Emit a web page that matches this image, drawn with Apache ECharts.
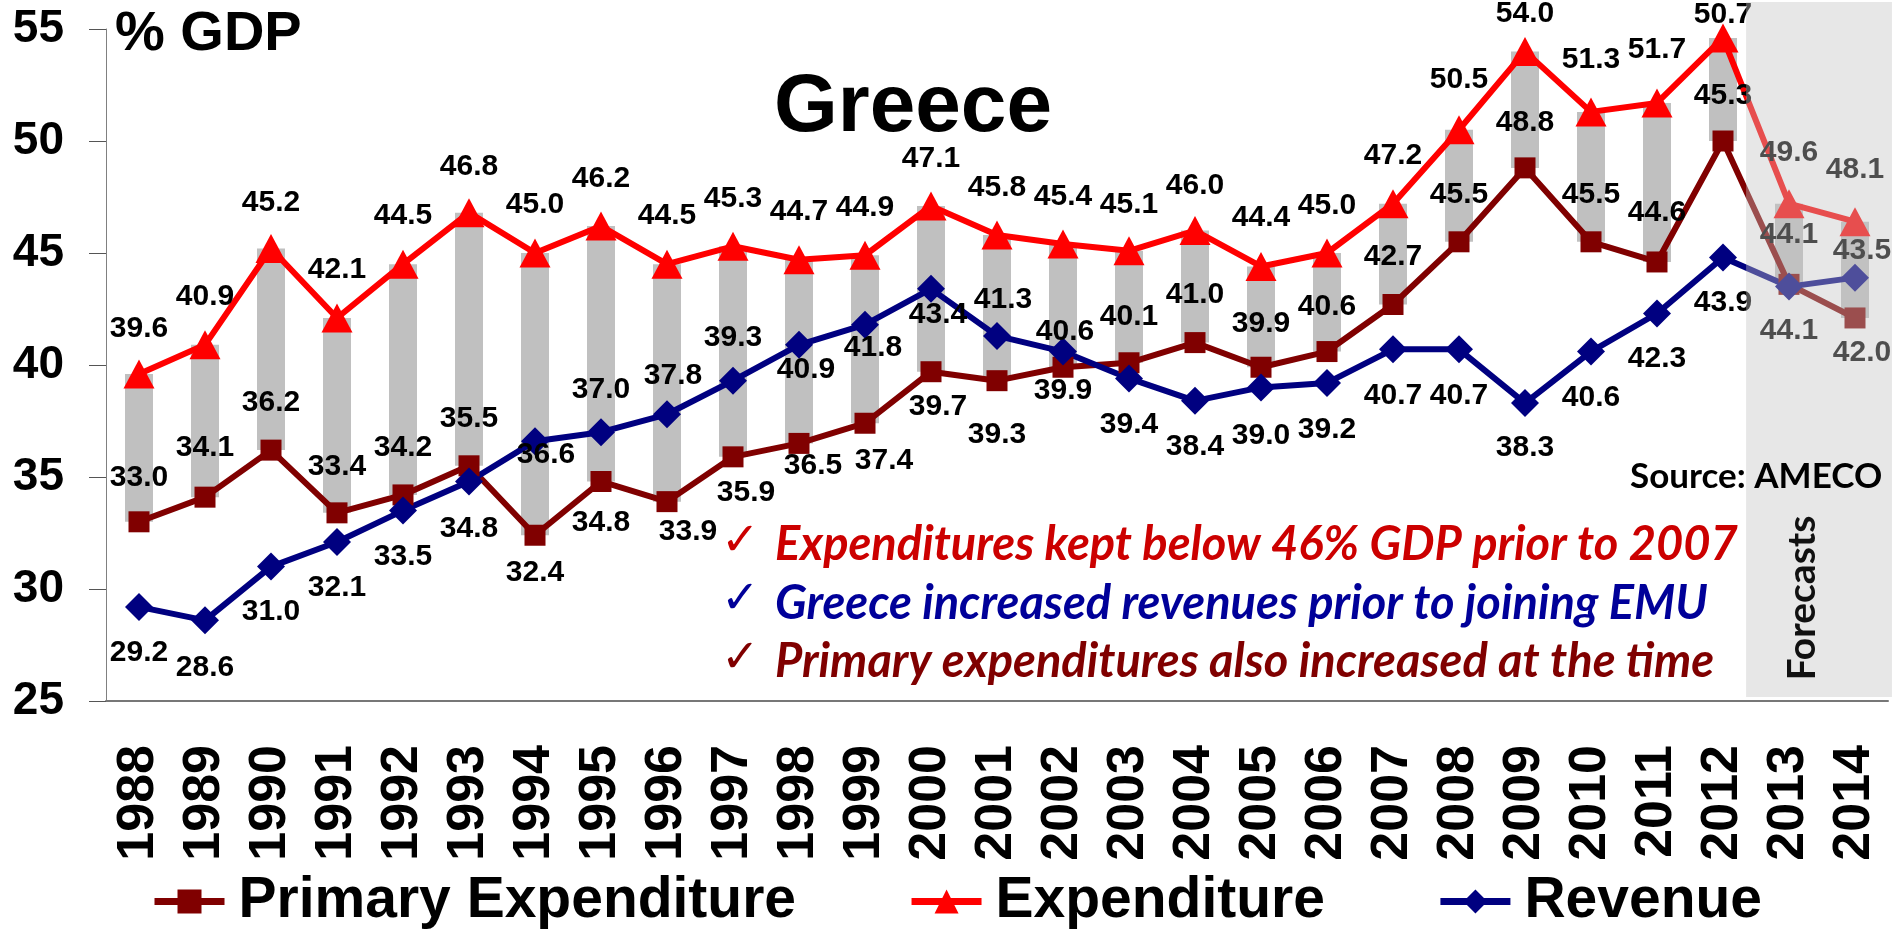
<!DOCTYPE html>
<html lang="en">
<head>
  <meta http-equiv="Content-Type" content="text/html; charset=UTF-8">
  <title>Greece - % GDP</title>
  <style>
    html, body {
      padding: 0;
      margin: 0;
      background: #fff;
    }
    #myChart {
      width: 1895px;
      height: 930px;
    }
  </style>
</head>
<body>
  <div id="myChart"></div>
  <script src="https://cdn.jsdelivr.net/npm/echarts/dist/echarts.min.js"></script>
  <script>
    const years = ['1988', '1989', '1990', '1991', '1992', '1993', '1994', '1995', '1996', '1997',
      '1998', '1999', '2000', '2001', '2002', '2003', '2004', '2005', '2006', '2007',
      '2008', '2009', '2010', '2011', '2012', '2013', '2014'];
    const primary = [33.0, 34.1, 36.2, 33.4, 34.2, 35.5, 32.4, 34.8, 33.9, 35.9, 36.5, 37.4, 39.7, 39.3,
      39.9, 40.1, 41.0, 39.9, 40.6, 42.7, 45.5, 48.8, 45.5, 44.6, 50.0, 43.6, 42.1];
    const expenditure = [39.6, 40.9, 45.2, 42.1, 44.5, 46.8, 45.0, 46.2, 44.5, 45.3, 44.7, 44.9, 47.1, 45.8,
      45.4, 45.1, 46.0, 44.4, 45.0, 47.2, 50.5, 54.0, 51.3, 51.7, 54.6, 47.2, 46.4];
    const revenue = [29.2, 28.6, 31.0, 32.1, 33.5, 34.8, 36.6, 37.0, 37.8, 39.3, 40.9, 41.8, 43.4, 41.3,
      40.6, 39.4, 38.4, 39.0, 39.2, 40.7, 40.7, 38.3, 40.6, 42.3, 44.8, 43.5, 43.9];
    // the printed labels for the last years don't match where the points sit
    const printedPrimary = { '2012': '45.3', '2013': '44.1', '2014': '42.0' };
    const printedExpenditure = { '2012': '50.7', '2013': '49.6', '2014': '48.1' };
    const printedRevenue = { '2012': '43.9', '2013': '44.1', '2014': '43.5' };
    const forecastYears = ['2013', '2014'];
    const notes = [
      { text: 'Expenditures kept below 46% GDP prior to 2007', color: '#cc0000' },
      { text: 'Greece increased revenues prior to joining EMU', color: '#000099' },
      { text: 'Primary expenditures also increased at the time', color: '#800000' },
    ];

    // label offsets (dx, dy) from each marker
    const expDy = [-45, -48, -46, -48, -48, -46, -48, -47, -48, -48, -48, -48, -47, -47,
      -47, -46, -45, -49, -47, -48, -50, -38, -52, -53, -23, -51, -52];
    const primDy = [-44, -49, -47, -46, -47, -47, 37, 41, 30, 36, 22, 37, 35, 54,
      23, -46, -48, -44, -45, -48, -47, -45, -47, -49, -45, 46, 35];
    const primDx = [0, 0, 0, 0, 0, 0, 0, 0, 21, 13, 14, 19, 7, 0, 0, 0, 0, 0, 0, 0, 0, 0, 0, 0, 0, 0, 7];
    const revDy = [46, 47, 45, 46, 46, 47, 14, -42, -39, -43, 25, 23, 26, -36,
      -20, 46, 46, 48, 47, 46, 46, 45, 46, 45, 45, -52, -27];
    const revDx = [0, 0, 0, 0, 0, 0, 11, 0, 6, 0, 7, 8, 7, 6, 2, 0, 0, 0, 0, 0, 0, 0, 0, 0, 0, 0, 7];

    const numFont = "'Liberation Sans', Arial, sans-serif";
    const noteFont = "Lato, 'Open Sans', sans-serif";

    function withLabels(values, dx, dy) {
      return values.map((v, i) => ({
        value: v,
        label: { offset: [dx ? dx[i] : 0, dy[i]] }
      }));
    }
    function labelFor(printed) {
      return {
        show: true,
        position: 'inside',
        fontFamily: numFont,
        fontWeight: 'bold',
        fontSize: 30,
        color: '#000',
        formatter: p => printed[p.name] || p.value.toFixed(1)
      };
    }

    const myChart = echarts.init(document.getElementById('myChart'));
    const option = {
      animation: false,
      backgroundColor: '#fff',
      grid: { left: 106, right: 7, top: 29, bottom: 229 },
      legend: {
        data: ['Primary Expenditure', 'Expenditure', 'Revenue'],
        left: 146,
        top: 868,
        itemWidth: 70,
        itemHeight: 30,
        itemGap: 112,
        lineStyle: { width: 7 },
        textStyle: {
          fontFamily: numFont,
          fontWeight: 'bold',
          fontSize: 57,
          color: '#000',
          padding: [0, 0, 0, 9]
        }
      },
      xAxis: {
        type: 'category',
        data: years,
        axisLine: { lineStyle: { color: '#777', width: 2 } },
        axisTick: { length: 18, lineStyle: { color: '#555' } },
        axisLabel: {
          interval: 0,
          rotate: 90,
          margin: 44,
          fontFamily: numFont,
          fontWeight: 'bold',
          fontSize: 52,
          color: '#000'
        }
      },
      yAxis: {
        type: 'value',
        min: 25,
        max: 55,
        interval: 5,
        splitLine: { show: false },
        axisLine: { show: true, lineStyle: { color: '#808080' } },
        axisTick: { show: true, length: 17, lineStyle: { color: '#555' } },
        axisLabel: {
          margin: 42,
          fontFamily: numFont,
          fontWeight: 'bold',
          fontSize: 46,
          color: '#000'
        }
      },
      series: [{
        type: 'bar',
        stack: 'gap',
        barWidth: 28,
        itemStyle: { color: 'transparent' },
        silent: true,
        data: primary
      }, {
        type: 'bar',
        stack: 'gap',
        barWidth: 28,
        itemStyle: { color: '#c0c0c0' },
        silent: true,
        data: expenditure.map((v, i) => +(v - primary[i]).toFixed(1))
      }, {
        name: 'Primary Expenditure',
        type: 'line',
        symbol: 'rect',
        symbolSize: 21,
        color: '#800000',
        lineStyle: { width: 6 },
        label: labelFor(printedPrimary),
        data: withLabels(primary, primDx, primDy)
      }, {
        name: 'Expenditure',
        type: 'line',
        symbol: 'triangle',
        symbolSize: [31, 29],
        color: '#ff0000',
        lineStyle: { width: 6 },
        label: labelFor(printedExpenditure),
        data: withLabels(expenditure, null, expDy)
      }, {
        name: 'Revenue',
        type: 'line',
        symbol: 'diamond',
        symbolSize: 28,
        color: '#000080',
        lineStyle: { width: 6 },
        label: labelFor(printedRevenue),
        data: withLabels(revenue, revDx, revDy)
      }]
    };
    myChart.setOption(option);

    // forecast shading + texts, placed from the axes
    const x0 = myChart.convertToPixel({ xAxisIndex: 0 }, forecastYears[0]);
    const x1 = myChart.convertToPixel({ xAxisIndex: 0 }, forecastYears[1]);
    const band = x1 - x0;
    const yBase = myChart.convertToPixel({ yAxisIndex: 0 }, 25);

    const noteItems = [];
    notes.forEach((n, i) => {
      const cy = 545 + i * 58.5;
      noteItems.push({
        type: 'text', x: 721, y: cy - 2, z: 20,
        style: { text: '\u2713', font: "bold 46px 'DejaVu Sans'", fill: n.color, textVerticalAlign: 'middle' }
      });
      noteItems.push({
        type: 'text', x: 775, y: cy, z: 20,
        style: { text: n.text, font: 'italic bold 47px ' + noteFont, fill: n.color, textVerticalAlign: 'middle' }
      });
    });

    myChart.setOption({
      graphic: [{
        type: 'rect',
        z: 100,
        silent: true,
        shape: { x: x0 - band * 0.65, y: 2, width: band * 1.21 + (x1 - x0), height: yBase - 6 },
        style: { fill: 'rgba(195,195,195,0.4)' }
      }, {
        type: 'text', x: 115, y: 35, z: 20,
        style: { text: '% GDP', font: "bold 56px " + numFont, fill: '#000', textVerticalAlign: 'middle' }
      }, {
        type: 'text', x: 913, y: 108, z: 20,
        style: { text: 'Greece', font: "bold 82px " + numFont, fill: '#000', textAlign: 'center', textVerticalAlign: 'middle' }
      }, {
        type: 'text', x: 1630, y: 477, z: 120,
        style: { text: 'Source: AMECO', font: 'bold 35px ' + noteFont, fill: '#000', textVerticalAlign: 'middle' }
      }, {
        type: 'text', x: (x0 + x1) / 2 - 20, y: 598, z: 120, rotation: Math.PI / 2,
        style: { text: 'Forecasts', font: 'bold 39px ' + noteFont, fill: '#111', textAlign: 'center', textVerticalAlign: 'middle' }
      }].concat(noteItems)
    });
  </script>
</body>
</html>
